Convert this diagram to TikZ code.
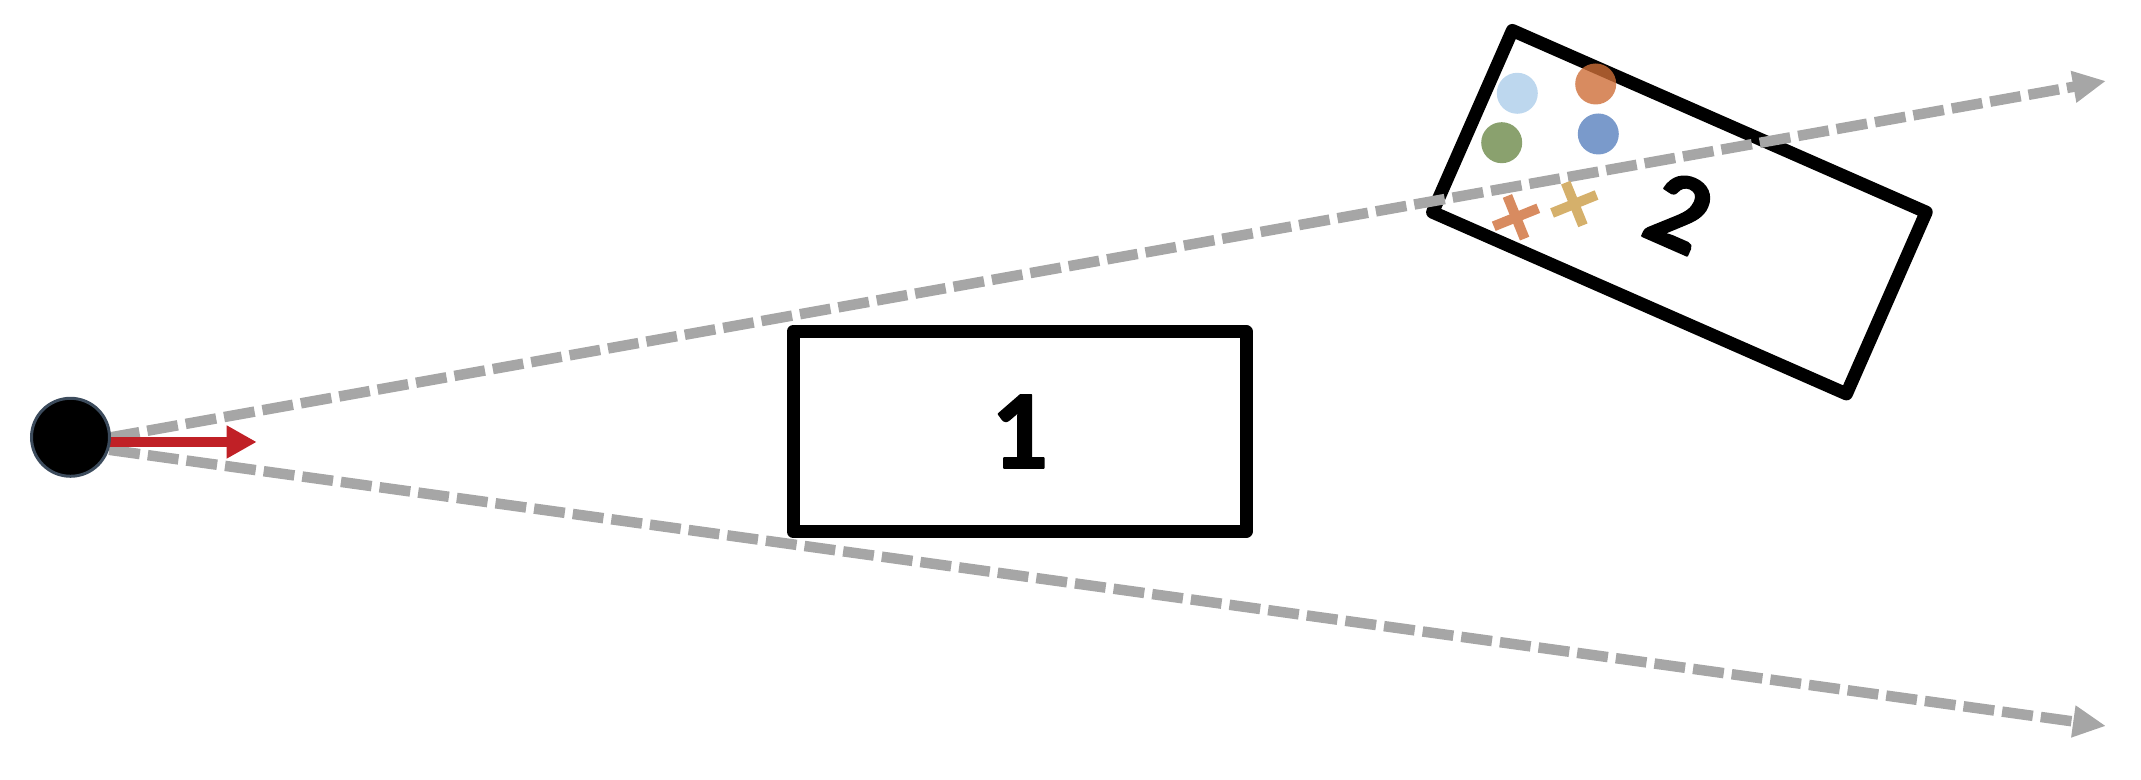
\documentclass[tikz,border=0pt]{standalone}
\usepackage{fontspec}
\setmainfont{Carlito}
\newfontfamily\labelfont{Carlito}[FakeBold=1.6]
\usetikzlibrary{arrows.meta}
\definecolor{raygray}{RGB}{166,166,166}
\definecolor{dirred}{RGB}{192,32,38}
\definecolor{srcedge}{RGB}{60,75,92}
\definecolor{ltblue}{RGB}{189,215,238}
\definecolor{dkorange}{RGB}{206,110,56}
\definecolor{fgreen}{RGB}{138,161,110}
\definecolor{midblue}{RGB}{122,154,203}
\definecolor{xorange}{RGB}{216,139,96}
\definecolor{xyellow}{RGB}{213,176,107}
\tikzset{
  box/.style={draw=black, line width=0.13cm, line join=round, inner sep=0pt,
    minimum width=4.53cm, minimum height=2cm, font=\labelfont\fontsize{32}{36}\selectfont\bfseries},
  ray/.style={draw=raygray, line width=0.105cm, dash pattern=on 0.31cm off 0.08cm,
    -{Triangle[length=0.33cm,width=0.3cm]}},
  blob/.style={circle, inner sep=0pt, minimum size=0.41cm},
  hitline/.style={line width=0.1cm}
}
\begin{document}
\begin{tikzpicture}
  \useasboundingbox (0,0) rectangle (21.41,7.80);
  %%% obstacles
  \node[box] (box1) at (10.195,3.485) {1};
  \node[box, rotate=-23.7, minimum width=4.52cm, minimum height=1.985cm] (box2) at (16.794,5.678) {2};
  %%% rays
  \coordinate (o) at (0.705,3.355);
  \coordinate (up) at (21.06,6.99);
  \coordinate (down) at (21.06,0.54);
  \draw[ray] (o) -- (up);
  \draw[ray] (o) -- (down);
  %%% samples in box 2
  \node[blob, fill=ltblue] (s1) at (15.173,6.867) {};
  \node[blob, fill=dkorange, fill opacity=0.8] (s2) at (15.957,6.96) {};
  \node[blob, fill=fgreen] (s3) at (15.017,6.373) {};
  \node[blob, fill=midblue] (s4) at (15.983,6.46) {};
  \coordinate (x1) at (15.16,5.627);
  \coordinate (x2) at (15.743,5.76);
  \foreach \c/\col in {x1/xorange, x2/xyellow}{
    \draw[hitline, \col] ([shift={(22:0.24)}]\c) -- ([shift={(202:0.24)}]\c);
    \draw[hitline, \col] ([shift={(112:0.23)}]\c) -- ([shift={(-68:0.23)}]\c);
  }
  %%% source and direction
  \coordinate (tip) at (2.567,3.38);
  \draw[dirred, line width=0.107cm, -{Triangle[length=0.3cm,width=0.31cm]}] (0.705,3.38) -- (tip);
  \node[circle, draw=srcedge, fill=black, line width=0.03cm, minimum size=0.78cm, inner sep=0pt] (src) at (0.705,3.427) {};
\end{tikzpicture}
\end{document}
